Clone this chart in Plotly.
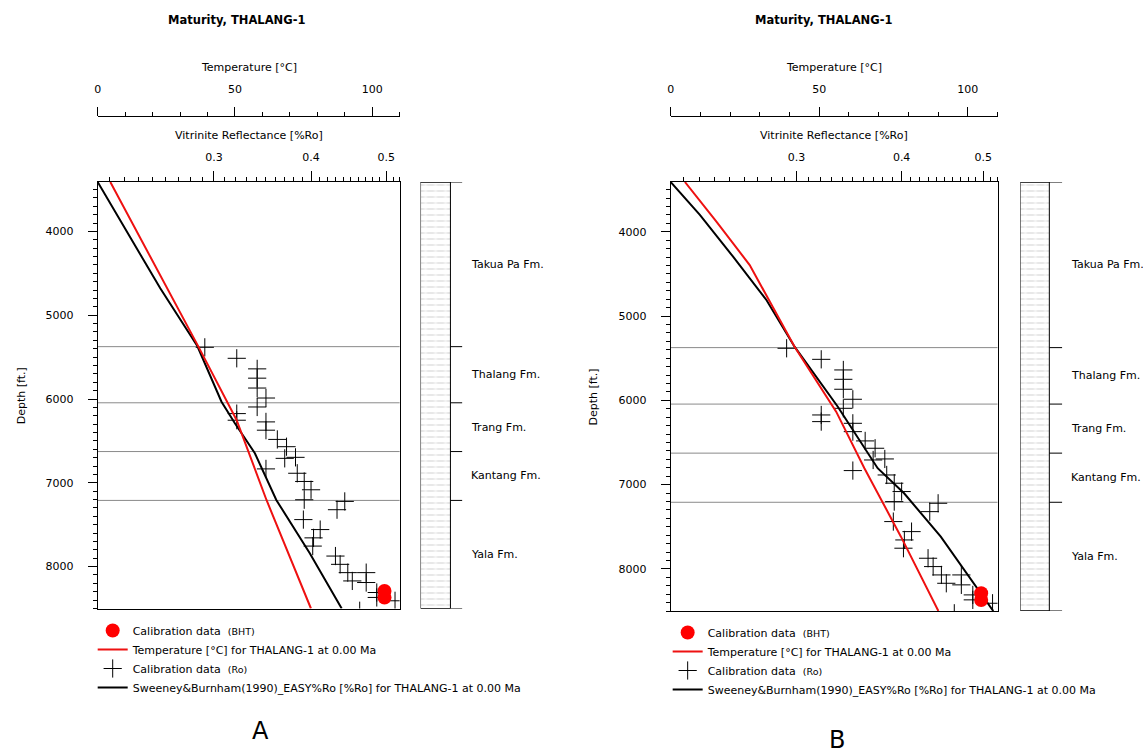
import math
import plotly.graph_objects as go

W, H = 1143, 754
FONT = "DejaVu Sans"

# ---------------------------------------------------------------- data
formation_names = ["Takua Pa Fm.", "Thalang Fm.", "Trang Fm.", "Kantang Fm.", "Yala Fm."]
formation_tops = [3410, 5375, 6045, 6627, 7210]
total_depth = 8500

# measured vitrinite reflectance (calibration, %Ro) and sample depths (ft)
ro_depth = [5383, 5514, 5640, 5751, 5869, 5988, 6095, 6174, 6253, 6273, 6372, 6482,
            6569, 6696, 6708, 6834, 6886, 6984, 7083, 7202, 7222, 7321, 7439, 7558,
            7657, 7755, 7874, 7973, 8072, 8171, 8072, 8190, 8309, 8368, 8408, 8527]
ro_value = [0.292, 0.321, 0.341, 0.341, 0.341, 0.350, 0.341, 0.321, 0.321, 0.350, 0.350, 0.362,
            0.372, 0.382, 0.370, 0.350, 0.384, 0.392, 0.400, 0.392, 0.442, 0.432, 0.391, 0.411,
            0.403, 0.402, 0.430, 0.436, 0.446, 0.452, 0.471, 0.471, 0.486, 0.486, 0.513, 0.462]

# bottom-hole temperatures (degC)
bht_depth = [8290, 8370]
bht_temp = [104.5, 104.5]

# model A: present-day temperature and EASY%Ro
a_temp_depth = [3410, 4122, 4838, 5375, 6250, 7205, 8500]
a_temp = [4.6, 16.2, 27.9, 36.7, 50.6, 61.5, 77.7]
a_ro_depth = [3410, 4679, 5367, 6032, 6290, 6648, 7205, 7841, 8500]
a_ro = [0.2126, 0.2559, 0.2856, 0.3068, 0.3192, 0.3387, 0.3609, 0.3985, 0.438]

# model B: present-day temperature and EASY%Ro
b_temp_depth = [3410, 3881, 4395, 5364, 6135, 6806, 7618, 8500]
b_temp = [4.8, 15.4, 26.6, 41.7, 55.7, 65.2, 77.5, 90.1]
b_ro_depth = [3410, 3801, 4296, 4810, 5364, 6076, 6806, 7103, 7618, 8170, 8500]
b_ro = [0.2126, 0.2303, 0.2522, 0.2763, 0.2984, 0.3359, 0.3746, 0.4027, 0.4452, 0.4874, 0.514]

temp_ticks = [0, 50, 100]
ro_ticks = [0.25, 0.3, 0.35, 0.4, 0.45, 0.5]
ro_ticktext = ["", "0.3", "", "0.4", "", "0.5"]
depth_ticks = [4000, 5000, 6000, 7000, 8000]
ro_range = [0.2126, 0.52]
temp_range = [0, 110]


def px(x):
    return x / W


def py(y):
    return 1 - y / H


panels = [
    dict(letter="A", left=94, right=397, top=182, bottom=608.5,
         litho_left=418, litho_right=460, col_w=30, label_x=467,
         temp_axis_y=116, depth_title_x=17, legend_x=89, legend_y=616,
         letter_pos=(257, 731), title_x=233,
         temp_depth=a_temp_depth, temp=a_temp, ro_d=a_ro_depth, ro=a_ro,
         ids=("x", "x2", "x3", "y"), legend="legend"),
    dict(letter="B", left=669, right=997, top=182, bottom=611,
         litho_left=1020, litho_right=1062, col_w=29, label_x=1069,
         temp_axis_y=116, depth_title_x=592, legend_x=666, legend_y=618,
         letter_pos=(836, 740), title_x=822,
         temp_depth=b_temp_depth, temp=b_temp, ro_d=b_ro_depth, ro=b_ro,
         ids=("x4", "x5", "x6", "y2"), legend="legend2"),
]

fig = go.Figure()
layout = dict(
    width=W, height=H, autosize=False,
    margin=dict(l=0, r=0, t=0, b=0),
    paper_bgcolor="white", plot_bgcolor="white",
    font=dict(family=FONT, size=11, color="black"),
    showlegend=True, barmode="overlay", bargap=0,
)
shapes = []
annotations = []


def axname(a):
    return ("xaxis" if a[0] == "x" else "yaxis") + a[1:]


tick_font = dict(family=FONT, size=11, color="black")

for p in panels:
    xr, xt, xl, yy = p["ids"]
    dom_x = [px(p["left"]), px(p["right"])]
    dom_y = [py(p["bottom"]), py(p["top"])]

    # vitrinite reflectance axis (log, top of plot)
    layout[axname(xr)] = dict(
        type="log", domain=dom_x, anchor=yy, side="top",
        range=[math.log10(ro_range[0]), math.log10(ro_range[1])],
        showline=True, linecolor="black", linewidth=1, mirror=True,
        ticks="outside", ticklen=10, tickwidth=1, tickcolor="black",
        tickmode="array", tickvals=ro_ticks, ticktext=ro_ticktext,
        ticklabelstandoff=6, tickfont=tick_font,
        minor=dict(tickmode="array",
                   tickvals=[round(0.21 + 0.01 * k, 2) for k in range(32)],
                   ticks="outside", ticklen=4, tickcolor="black", showgrid=False),
        showgrid=False, zeroline=False, fixedrange=True,
    )
    # temperature axis (free, above)
    layout[axname(xt)] = dict(
        domain=dom_x, overlaying=xr, anchor="free", position=py(p["temp_axis_y"]),
        side="top", range=temp_range,
        showline=True, linecolor="black", linewidth=1,
        ticks="outside", ticklen=9, tickwidth=1, tickcolor="black",
        tickmode="array", tickvals=temp_ticks,
        ticklabelstandoff=10, tickfont=tick_font,
        minor=dict(tickmode="array", tickvals=list(range(10, 111, 10)),
                   ticks="outside", ticklen=4, tickcolor="black", showgrid=False),
        showgrid=False, zeroline=False, fixedrange=True,
    )
    # lithology column axis
    layout[axname(xl)] = dict(
        domain=[px(p["litho_left"]), px(p["litho_right"])], anchor=yy,
        range=[0, p["litho_right"] - p["litho_left"]], visible=False, fixedrange=True,
    )
    # depth axis
    layout[axname(yy)] = dict(
        domain=dom_y, anchor=xr, side="left", range=[total_depth, formation_tops[0]],
        showline=True, linecolor="black", linewidth=1, mirror=True,
        ticks="outside", ticklen=9, tickwidth=1, tickcolor="black",
        tickmode="array", tickvals=depth_ticks, ticklabelstandoff=12, tickfont=tick_font,
        minor=dict(tick0=0, dtick=100, ticks="outside", ticklen=4,
                   tickcolor="black", showgrid=False),
        showgrid=False, zeroline=False, fixedrange=True,
    )

    # lithology column fill: grey dash rows, broken by white vertical stripes
    thick = [b - t for t, b in zip(formation_tops, formation_tops[1:] + [total_depth])]
    cw = p["col_w"]
    fig.add_trace(go.Bar(
        x=[cw / 2] * len(thick), y=thick, base=formation_tops, width=cw,
        xaxis=xl, yaxis=yy, showlegend=False, hoverinfo="skip",
        marker=dict(color="white", line=dict(width=0),
                    pattern=dict(shape="-", fgcolor="#b0b0b0", bgcolor="white",
                                 size=6, solidity=0.2)),
    ))
    fig.add_trace(go.Bar(
        x=[cw / 2] * len(thick), y=thick, base=formation_tops, width=cw,
        xaxis=xl, yaxis=yy, showlegend=False, hoverinfo="skip",
        marker=dict(color="rgba(0,0,0,0)", line=dict(width=0),
                    pattern=dict(shape="|", fgcolor="white", bgcolor="rgba(0,0,0,0)",
                                 size=10, solidity=0.3, fillmode="overlay")),
    ))

    # model curves and calibration data
    fig.add_trace(go.Scatter(
        x=p["ro"], y=p["ro_d"], xaxis=xr, yaxis=yy, mode="lines",
        line=dict(color="black", width=2), legend=p["legend"], legendrank=4,
        name="Sweeney&Burnham(1990)_EASY%Ro [%Ro] for THALANG-1 at 0.00 Ma",
    ))
    fig.add_trace(go.Scatter(
        x=ro_value, y=ro_depth, xaxis=xr, yaxis=yy, mode="markers",
        marker=dict(symbol="cross-thin-open", size=13, color="black",
                    line=dict(color="black", width=1)),
        legend=p["legend"], legendrank=3,
        name="Calibration data  <span style='font-size:9.5px'>(Ro)</span>",
    ))
    fig.add_trace(go.Scatter(
        x=p["temp"], y=p["temp_depth"], xaxis=xt, yaxis=yy, mode="lines",
        line=dict(color="#ee1111", width=2), legend=p["legend"], legendrank=2,
        name="Temperature [°C] for THALANG-1 at 0.00 Ma",
    ))
    fig.add_trace(go.Scatter(
        x=bht_temp, y=bht_depth, xaxis=xt, yaxis=yy, mode="markers",
        marker=dict(symbol="circle", size=14, color="#ff0000"),
        legend=p["legend"], legendrank=1,
        name="Calibration data  <span style='font-size:9.5px'>(BHT)</span>",
    ))

    layout[p["legend"]] = dict(
        x=px(p["legend_x"]), y=py(p["legend_y"]), xanchor="left", yanchor="top",
        bgcolor="rgba(0,0,0,0)", borderwidth=0, itemwidth=30, tracegroupgap=0,
        font=dict(family=FONT, size=11, color="black"), traceorder="normal",
    )

    # formation tops across the plot
    for d in formation_tops[1:]:
        shapes.append(dict(type="line", xref=f"{xr} domain", x0=0, x1=1, yref=yy, y0=d, y1=d,
                           line=dict(color="#8a8a8a", width=1), layer="below"))
    # lithology column frame and ticks
    lw = p["litho_right"] - p["litho_left"]
    shapes.append(dict(type="rect", xref=xl, yref=yy, x0=0, x1=cw,
                       y0=formation_tops[0], y1=total_depth,
                       line=dict(color="black", width=1)))
    for d in [formation_tops[0], total_depth]:
        shapes.append(dict(type="line", xref=xl, yref=yy, x0=0, x1=lw, y0=d, y1=d,
                           line=dict(color="black", width=1)))
    for d in formation_tops[1:]:
        shapes.append(dict(type="line", xref=xl, yref=yy, x0=cw, x1=lw, y0=d, y1=d,
                           line=dict(color="black", width=1)))
    # formation names
    bases = formation_tops[1:] + [total_depth]
    for name, t, b in zip(formation_names, formation_tops, bases):
        annotations.append(dict(text=name, xref="paper", yref=yy, x=px(p["label_x"]),
                                y=(t + b) / 2, xanchor="left", yanchor="middle",
                                showarrow=False,
                                font=dict(family=FONT, size=11, color="black")))

    cx = (p["left"] + p["right"]) / 2
    annotations += [
        dict(text="<b>Maturity, THALANG-1</b>", xref="paper", yref="paper",
             x=px(p["title_x"]), y=py(20), xanchor="center", yanchor="middle",
             showarrow=False, font=dict(family=FONT, size=11.5, color="black")),
        dict(text="Temperature [°C]", xref="paper", yref="paper",
             x=px(cx), y=py(67), xanchor="center", yanchor="middle", showarrow=False),
        dict(text="Vitrinite Reflectance [%Ro]", xref="paper", yref="paper",
             x=px(cx), y=py(136), xanchor="center", yanchor="middle", showarrow=False),
        dict(text="Depth [ft.]", xref="paper", yref="paper", textangle=-90,
             x=px(p["depth_title_x"]), y=py((p["top"] + p["bottom"]) / 2),
             xanchor="center", yanchor="middle", showarrow=False),
        dict(text=p["letter"], xref="paper", yref="paper",
             x=px(p["letter_pos"][0]), y=py(p["letter_pos"][1]),
             xanchor="center", yanchor="middle", showarrow=False,
             font=dict(family=FONT, size=24, color="black")),
    ]

layout["shapes"] = shapes
layout["annotations"] = annotations
fig.update_layout(**layout)
fig.write_html("out.html")
